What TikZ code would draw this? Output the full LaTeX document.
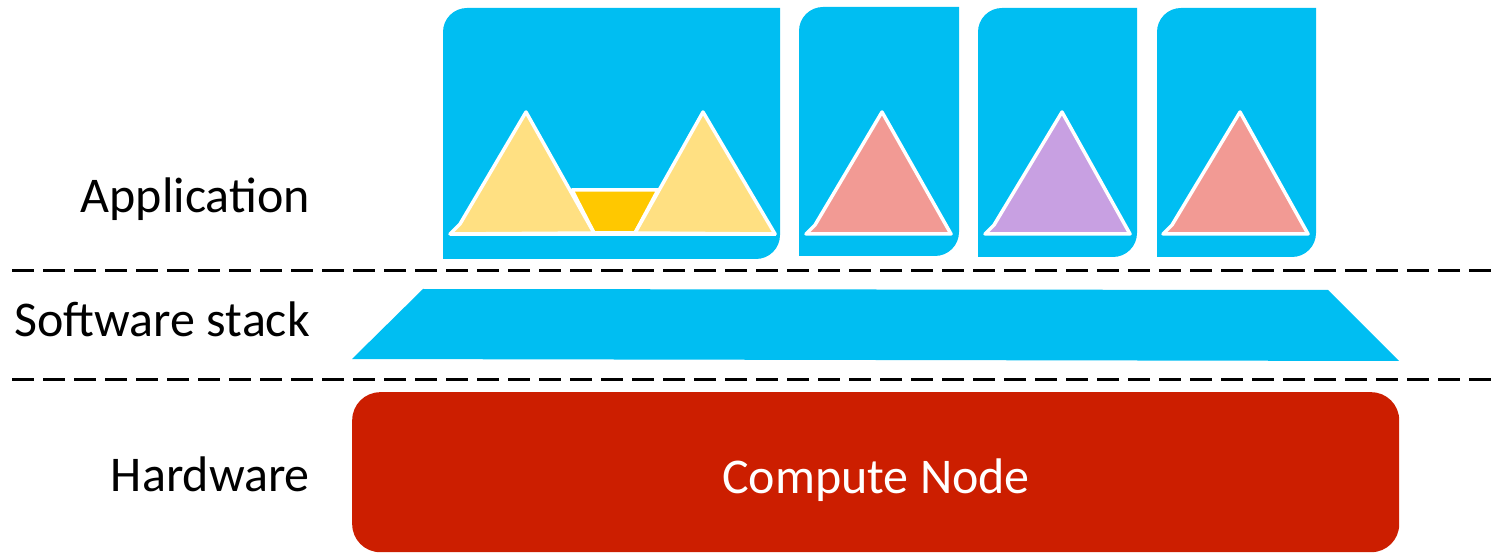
\documentclass[tikz,border=0pt]{standalone}
\usepackage{fontspec}
\setmainfont{Carlito}
\definecolor{appblue}{RGB}{0,190,242}
\definecolor{lightyellow}{RGB}{255,224,130}
\definecolor{gold}{RGB}{255,200,0}
\definecolor{salmon}{RGB}{242,154,148}
\definecolor{lilac}{RGB}{200,160,226}
\definecolor{nodered}{RGB}{204,30,0}
\tikzset{
  tri/.style={draw=white, line width=3.5pt, line join=round},
  bigtext/.style={inner sep=0pt, font=\fontsize{50}{60}\selectfont},
  layerlabel/.style={bigtext, anchor=base east},
  sep/.style={line width=3pt, dash pattern=on 22pt off 9pt},
}
\newcommand{\appbox}[4]{%
  \fill[appblue] (#1,-#4) -- (#1,-#2-24) arc[start angle=180,end angle=90,radius=24] -- (#3,-#2) -- (#3,-#4+24) arc[start angle=0,end angle=-90,radius=24] -- cycle;}
\begin{document}
\begin{tikzpicture}[x=1pt,y=1pt]
\useasboundingbox (0,0) rectangle (1497,-553);
% application containers
\appbox{443}{8}{780}{259}
\appbox{799}{7}{959}{256}
\appbox{978}{8}{1137}{257}
\appbox{1157}{8}{1316}{257}
% box 1 triangles
\filldraw[tri, fill=gold] (572,-190) -- (658,-190) -- (635,-233) -- (594,-233) -- cycle;
\filldraw[tri, fill=lightyellow] (450,-234) -- (460,-224) -- (526,-112) -- (594,-233) -- cycle;
\filldraw[tri, fill=lightyellow] (635,-233) -- (703,-112) -- (775,-234) -- cycle;
\draw[tri] (450,-234) -- (776,-234);
% other triangles
\filldraw[tri, fill=salmon] (806,-234) -- (815,-225) -- (882,-112) -- (951,-234) -- cycle;
\filldraw[tri, fill=lilac] (985,-234) -- (994,-225) -- (1062,-112) -- (1130,-234) -- cycle;
\filldraw[tri, fill=salmon] (1163,-234) -- (1172,-225) -- (1240,-112) -- (1308,-234) -- cycle;
% separators
\draw[sep] (12,-271) -- (1497,-271);
\draw[sep] (12,-379) -- (1497,-379);
% software stack
\fill[appblue] (423,-289) -- (1328,-290) -- (1399,-361) -- (352,-359) -- cycle;
% compute node
\node[fill=nodered, rounded corners=28pt, minimum width=1047pt, minimum height=160pt, inner sep=0pt, anchor=north west] (compute) at (352,-392) {};
\node[bigtext, anchor=base, text=white] (computelabel) at (876,-493) {Compute Node};
% labels
\node[layerlabel] (app) at (310,-213) {Application};
\node[layerlabel] (sw) at (310,-337) {Software stack};
\node[layerlabel] (hw) at (310,-491) {Hardware};
\end{tikzpicture}
\end{document}
